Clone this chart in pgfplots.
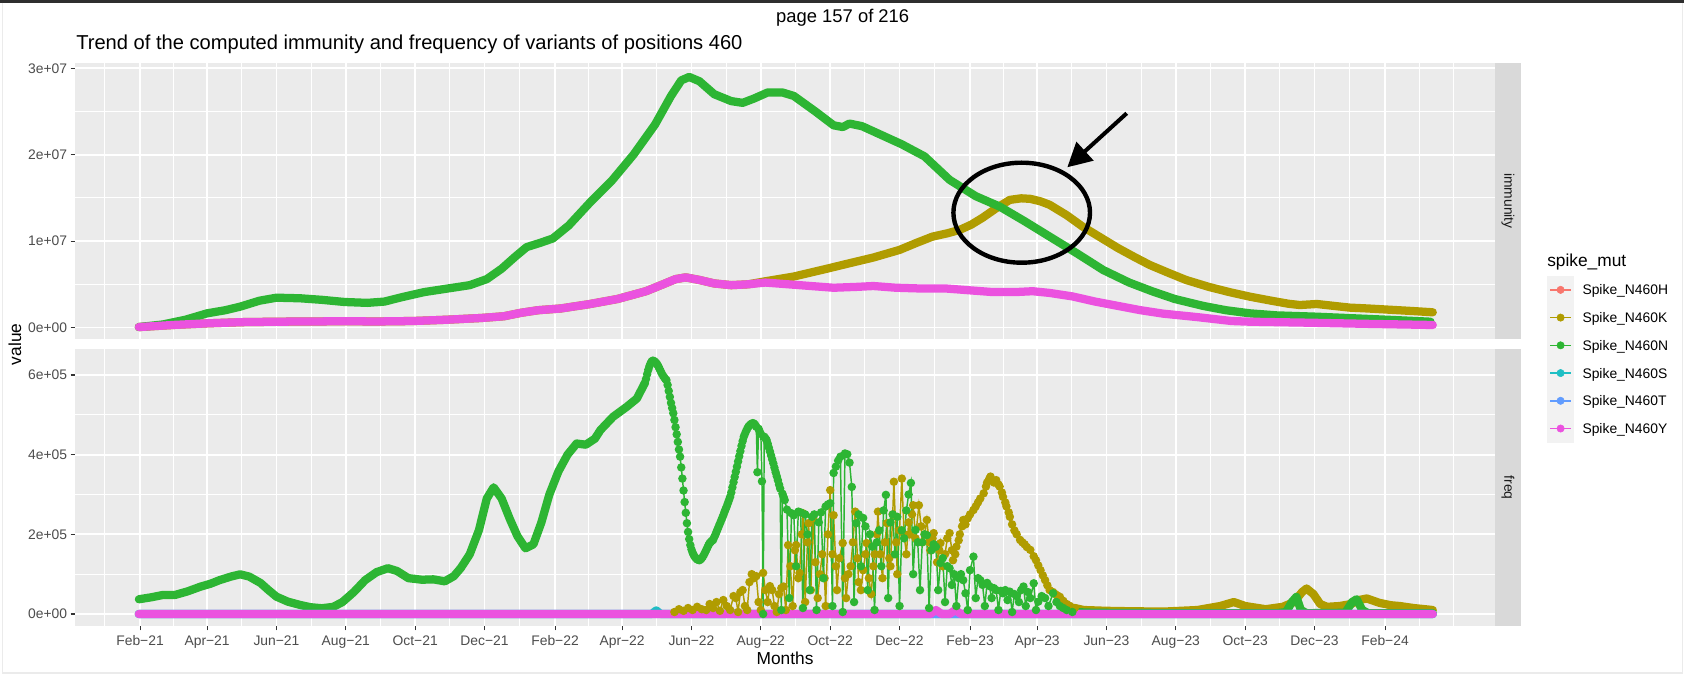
\documentclass[border=0pt]{standalone}
\usepackage{fontspec}
\setmainfont{Liberation Sans}
\usepackage{pgfplots}
\usepackage{pgfplotstable}
\pgfplotsset{compat=1.18}
\usetikzlibrary{arrows.meta}

\definecolor{cH}{HTML}{F8766D}
\definecolor{cK}{HTML}{B09C00}
\definecolor{cN}{HTML}{2DB533}
\definecolor{cS}{HTML}{1FBFC4}
\definecolor{cT}{HTML}{619CFF}
\definecolor{cY}{HTML}{EB52DF}
\definecolor{panel}{HTML}{EBEBEB}
\definecolor{stripbg}{HTML}{D9D9D9}
\definecolor{ticklab}{HTML}{4D4D4D}
\definecolor{tickmk}{HTML}{333333}
\definecolor{legkey}{HTML}{F2F2F2}

\newcommand\tickfont{\fontsize{10.4}{12.5}\selectfont}
\newcommand\titlefont{\fontsize{13}{15.6}\selectfont}

\pgfplotsset{
  gg/.style={
    scale only axis, width=1065pt,
    xmin=-57.2, xmax=1191.7,
    axis line style={draw=none},
    axis background/.style={fill=panel},
    grid=both,
    major grid style={white, line width=1.3pt},
    minor grid style={white, line width=0.65pt},
    xtick={0,59,120,181,242,303,365,424,485,546,607,668,730,789,850,911,972,1033,1095},
    minor xtick={-31,29.5,89.5,150.5,211.5,272.5,334,394.5,454.5,515.5,576.5,637.5,699,759.5,819.5,880.5,941.5,1002.5,1064,1125,1155},
    tick align=outside, tick pos=left,
    major tick length=3.2pt, minor tick length=0pt,
    tick style={tickmk, line width=0.8pt},
    ticklabel style={font=\tickfont, text=ticklab},
    yticklabel style={inner sep=0pt, xshift=-2.5pt},
    xticklabel style={inner sep=0pt, text height=7.5pt, text depth=0pt, yshift=-3.5pt},
    scaled y ticks=false,
  },
  thk/.style={line width=6.2pt, line cap=round, line join=round, no marks},
  dts/.style={line width=1.1pt, mark=*, mark size=2.6pt, mark options={solid}},
}

% freq values in thousands
\pgfplotstableread{
d v
444 580
445 590
446 602
447 613
448 622
449 629
450 634
451 636
452 635
453 633
454 630
455 626
456 621
457 615
458 609
459 603
460 598
461 594
462 590
463 587
464 575
465 560
466 545
467 530
468 517
469 504
470 487
471 469
472 451
473 432
474 413
475 395
476 368
477 340
478 310
479 281
480 254
481 228
482 206
483 188
484 173
485 162
486 154
487 148
488 143
489 140
490 137
491 136
492 135
493 137
494 140
495 144
496 149
497 155
498 161
499 167
500 173
501 178
502 181
503 184
504 186
505 193
506 199
507 206
508 213
509 220
510 227
511 234
512 241
513 248
514 256
515 263
516 270
517 278
518 286
519 294
520 305
521 318
522 331
523 344
524 357
525 370
526 383
527 396
528 409
529 422
530 434
531 445
532 452
533 459
534 465
535 470
536 473
537 476
538 478
539 479
540 478
541 475
542 470
543 356
544 465
545 458
546 452
547 333
548 0
549 445
550 441
551 437
552 428
553 418
554 408
555 398
556 388
557 378
558 367
559 356
560 346
561 336
562 325
563 315
564 10
565 302
566 294
567 286
569 262
571 40
573 253
575 248
577 120
579 257
581 255
583 15
585 250
587 200
589 60
591 244
593 250
595 10
597 230
599 255
601 90
603 270
605 275
607 278
609 20
610 354
612 370
614 385
616 395
618 5
620 403
622 401
624 380
626 319
628 30
630 228
632 250
634 120
636 241
638 220
640 60
642 200
644 169
646 10
648 180
650 210
652 120
654 260
656 299
658 40
660 230
662 250
664 150
666 244
668 20
670 210
672 190
674 260
676 300
678 329
680 100
682 211
684 180
686 60
688 180
690 200
692 198
694 15
696 160
698 175
700 169
702 60
704 128
706 140
708 30
710 120
712 115
714 73
716 100
718 20
720 90
722 100
724 85
726 52
728 10
730 110
733 144
735 40
737 90
739 85
741 73
743 20
745 78
747 70
749 40
751 65
753 60
755 10
757 58
759 52
761 60
763 35
765 56
767 5
769 50
771 45
773 30
775 60
777 69
779 20
781 55
783 40
786 77
788 10
790 31
793 45
796 40
799 20
803 52
806 30
809 20
812 15
815 10
820 5
}\freqNdots

\pgfplotstableread{
d v
470 5
474 12
478 8
482 15
486 10
490 18
494 12
498 10
501 25
504 15
507 30
510 8
513 35
516 20
519 10
522 45
524 40
526 5
528 55
530 60
532 20
534 10
536 80
538 100
540 90
542 95
544 30
546 10
548 103
550 60
552 30
554 70
556 60
558 20
560 5
562 50
564 65
566 69
568 10
570 173
572 120
574 20
576 160
577 173
579 90
580 103
582 200
583 253
585 30
587 180
588 228
590 60
592 241
594 130
596 40
598 100
600 150
602 90
603 20
605 200
607 311
609 150
610 248
612 120
613 60
615 140
618 178
620 90
621 40
623 100
625 120
627 180
629 257
631 140
632 80
634 60
636 110
638 150
639 178
641 90
643 50
645 120
646 150
648 200
649 257
651 150
653 90
655 180
657 228
659 140
660 120
662 250
663 332
665 180
666 100
668 210
670 340
672 200
674 150
676 230
677 200
679 250
680 273
682 190
685 273
687 220
688 180
690 200
692 236
694 180
695 160
697 190
698 203
700 170
701 130
703 160
704 178
706 120
708 150
710 190
712 203
714 160
715 135
717 150
718 169
720 185
721 200
723 220
724 236
726 225
728 240
730 250
733 261
735 270
737 280
739 290
742 303
744 320
745 330
747 340
748 345
750 335
751 330
753 336
755 325
756 320
758 305
759 294
761 280
762 270
764 255
765 244
767 225
769 210
771 200
774 186
776 180
778 175
780 168
783 161
786 145
788 135
790 122
792 110
794 97
796 85
798 72
800 60
803 55
805 50
807 46
809 43
812 33
815 25
818 20
822 15
}\freqKdots

\begin{document}
\begin{tikzpicture}
\begin{scope}[x=0.75pt, y=-0.75pt, yshift=506.25pt]
  \fill[white] (0,0) rectangle (1684,675);
  \fill[black!82] (0,0) rectangle (1684,2.7);
  \draw[black!8, line width=0.8pt] (2.7,3) -- (2.7,673) -- (1682.7,673) -- (1682.7,3);
\end{scope}

% ---------------- immunity panel ----------------
\begin{axis}[gg, at={(56.25pt,251.775pt)}, anchor=south west, height=207.45pt,
  ymin=-1.366e6, ymax=3.0648e7,
  ytick={0,1e7,2e7,3e7}, minor ytick={5e6,1.5e7,2.5e7},
  yticklabels={0e+00,1e+07,2e+07,3e+07},
  xticklabel={}, xtick style={draw=none},
  legend style={at={(axis description cs:1.03662,0.22885)}, anchor=north west,
    draw=none, fill=none, inner sep=0pt, outer sep=0pt, row sep=0pt, column sep=6.75pt,
    font=\tickfont, cells={anchor=west},
    nodes={inner sep=0pt, text height=7.45pt, text depth=0pt}},
  legend image code/.code={
    \fill[legkey] (0pt,-10.2pt) rectangle (19.5pt,10.2pt);
    \draw[line width=1.1pt] (2.2pt,0pt) -- (17.8pt,0pt);
    \fill (10pt,0pt) circle (2.75pt);
  },
]
\addplot[thk, cK, forget plot] coordinates {
(-1,0.05e6) (30,0.3e6) (59,0.48e6) (90,0.62e6) (120,0.67e6) (150,0.7e6) (180,0.72e6)
(210,0.7e6) (240,0.75e6) (270,0.9e6) (300,1.1e6) (320,1.3e6) (335,1.7e6) (350,2.0e6)
(370,2.2e6) (395,2.7e6) (420,3.3e6) (445,4.2e6) (460,5.0e6) (471,5.6e6) (480,5.8e6)
(492,5.5e6) (505,5.1e6) (520,4.9e6) (535,5.0e6) (550,5.35e6) (575,5.9e6) (604,6.8e6)
(624,7.44e6) (645,8.1e6) (668,8.98e6) (683,9.8e6)
(697,10.52e6) (710,10.9e6) (721,11.3e6) (731,11.9e6) (741,12.7e6) (753,13.8e6)
(765,14.77e6) (775,14.95e6) (783,14.89e6) (792,14.6e6) (800,14.2e6) (815,13.0e6)
(829,11.68e6) (845,10.4e6) (860,9.2e6) (874,8.2e6) (888,7.24e6) (905,6.3e6)
(920,5.5e6) (940,4.7e6) (958,4.1e6) (976,3.57e6) (995,3.1e6) (1010,2.75e6)
(1020,2.6e6) (1035,2.72e6) (1050,2.5e6) (1064,2.3e6) (1080,2.2e6) (1100,2.05e6)
(1120,1.9e6) (1137,1.76e6)};
\addplot[thk, cN, forget plot] coordinates {
(-1,0.05e6) (20,0.35e6) (40,0.9e6) (59,1.64e6) (75,2.0e6) (88,2.41e6) (105,3.1e6)
(120,3.45e6) (141,3.38e6) (160,3.2e6) (180,2.95e6) (200,2.85e6) (215,3.0e6)
(230,3.5e6) (250,4.1e6) (270,4.5e6) (290,4.9e6) (305,5.6e6) (318,6.8e6) (330,8.2e6)
(340,9.3e6) (352,9.8e6) (363,10.3e6) (377,11.8e6) (396,14.5e6) (415,17.0e6)
(434,20.0e6) (453,23.5e6) (467,26.8e6) (476,28.6e6) (483,29.0e6) (492,28.5e6)
(505,27.0e6) (520,26.2e6) (530,26.0e6) (540,26.5e6) (552,27.2e6) (565,27.2e6)
(575,26.8e6) (594,25.0e6) (610,23.4e6) (618,23.2e6) (624,23.6e6) (635,23.3e6)
(650,22.4e6) (670,21.2e6) (690,19.8e6) (712,17.09e6) (735,15.2e6) (756,14.0e6)
(778,12.3e6) (800,10.52e6) (825,8.5e6) (847,6.66e6) (870,5.2e6) (890,4.2e6)
(910,3.3e6) (935,2.5e6) (955,2.0e6) (976,1.64e6) (1000,1.4e6) (1035,1.25e6)
(1070,1.05e6) (1100,0.88e6) (1135,0.67e6)};
\addplot[thk, cY, forget plot] coordinates {
(-1,0.05e6) (30,0.3e6) (59,0.48e6) (90,0.62e6) (120,0.67e6) (150,0.7e6) (180,0.72e6)
(210,0.7e6) (240,0.75e6) (270,0.9e6) (300,1.1e6) (320,1.3e6) (335,1.7e6) (350,2.0e6)
(370,2.2e6) (395,2.7e6) (420,3.3e6) (445,4.2e6) (460,5.0e6) (471,5.6e6) (480,5.8e6)
(492,5.5e6) (505,5.1e6) (520,4.9e6) (535,5.0e6) (550,5.2e6) (570,5.0e6) (590,4.8e6)
(610,4.6e6) (630,4.7e6) (645,4.8e6) (665,4.6e6) (690,4.5e6) (710,4.5e6) (730,4.3e6)
(750,4.1e6) (770,4.1e6) (785,4.2e6) (800,4.0e6) (820,3.6e6) (840,3.0e6) (860,2.5e6)
(880,2.0e6) (900,1.6e6) (930,1.2e6) (960,0.75e6) (976,0.67e6) (1030,0.55e6)
(1080,0.42e6) (1137,0.29e6)};
\addlegendimage{cH}\addlegendentry{Spike\_N460H}
\addlegendimage{cK}\addlegendentry{Spike\_N460K}
\addlegendimage{cN}\addlegendentry{Spike\_N460N}
\addlegendimage{cS}\addlegendentry{Spike\_N460S}
\addlegendimage{cT}\addlegendentry{Spike\_N460T}
\addlegendimage{cY}\addlegendentry{Spike\_N460Y}
\end{axis}

% ---------------- freq panel ----------------
\begin{axis}[gg, at={(56.25pt,36.75pt)}, anchor=south west, height=207.75pt,
  ymin=-30124, ymax=665270,
  ytick={0,2e5,4e5,6e5}, minor ytick={1e5,3e5,5e5},
  yticklabels={0e+00,2e+05,4e+05,6e+05},
  xticklabels={Feb−21,Apr−21,Jun−21,Aug−21,Oct−21,Dec−21,Feb−22,Apr−22,Jun−22,Aug−22,Oct−22,Dec−22,Feb−23,Apr−23,Jun−23,Aug−23,Oct−23,Dec−23,Feb−24},
]
\addplot[thk, cH] coordinates {(-1,0) (1137,0)};
\addplot[dts, cK] table[x=d, y expr=\thisrow{v}*1000] {\freqKdots};
\addplot[thk, cK] coordinates {
(822,15000) (830,10000) (850,8000) (870,7000) (900,6000) (930,10000) (950,20000)
(962,30000) (972,20000) (990,12000) (1005,18000) (1015,30000) (1022,55000)
(1026,64000) (1032,50000) (1038,25000) (1044,18000) (1055,20000) (1065,25000)
(1072,35000) (1079,39000) (1090,28000) (1100,22000) (1108,20000) (1120,15000)
(1137,10000)};
\addplot[thk, cN] coordinates {
(-1,37000) (10,42000) (20,47700) (31,48000) (42,57000) (53,68500) (62,76000)
(70,85000) (80,94000) (88,99600) (96,94000) (106,77800) (113,60000) (120,43500)
(130,31000) (141,22600) (150,17000) (160,14500) (170,18000) (178,30000) (188,55000)
(198,85000) (208,105000) (218,115000) (226,108000) (236,90000) (248,86000)
(258,87000) (268,82000) (276,95000) (282,115000) (290,150000) (298,210000)
(305,290000) (311,318000) (318,290000) (325,240000) (332,195000) (339,165000)
(346,175000) (353,230000) (360,300000) (368,358000) (376,400000) (384,428000)
(392,425000) (400,440000) (405,462000) (416,495000) (428,520000) (437,541000)
(444,580000)};
\addplot[dts, cN] table[x=d, y expr=\thisrow{v}*1000] {\freqNdots};
\addplot[thk, cN] coordinates {
(820,5000) (830,4000) (840,3000) (900,2000) (1000,2000) (1008,5000) (1013,30000)
(1017,43000) (1021,10000) (1026,2000) (1060,3000) (1066,30000) (1070,37000)
(1075,10000) (1080,2000) (1137,2000)};
\addplot[thk, cS] coordinates {(-1,0) (450,0) (454,9000) (458,0) (1137,0)};
\addplot[thk, cT] coordinates {(-1,0) (515,0) (519,6000) (523,0) (1137,0)};
\addplot[thk, cY] coordinates {(-1,0) (695,0) (700,10000) (705,0) (712,0) (717,10000)
(722,0) (1137,0)};
\end{axis}

\begin{scope}[x=0.75pt, y=-0.75pt, yshift=506.25pt]
  % strips
  \fill[stripbg] (1495,62.7) rectangle (1520.7,339.3);
  \fill[stripbg] (1495,349) rectangle (1520.7,626);
  \node[rotate=-90, font=\tickfont, text=black!90] at (1508,201) {immunity};
  \node[rotate=-90, font=\tickfont, text=black!90] at (1508,487.5) {freq};
  % titles
  \node[anchor=base, font=\fontsize{13.8}{16.5}\selectfont, inner sep=0pt] at (842.7,22.7) {page 157 of 216};
  \node[anchor=base west, font=\fontsize{15.1}{18.1}\selectfont, inner sep=0pt] at (76,49.5) {Trend of the computed immunity and frequency of variants of positions 460};
  \node[rotate=90, font=\titlefont] at (15,344.4) {value};
  \node[font=\titlefont] at (785,658.3) {Months};
  \node[anchor=base west, font=\titlefont, inner sep=0pt] at (1547,266.7) {spike\_mut};
  % annotation
  \draw[black, line width=3.3pt] (1021.7,212.7) ellipse [x radius=68.3, y radius=50];
  \draw[black, line width=3pt, -{Triangle[length=18pt, width=18.5pt]}] (1126.7,113.3) -- (1067.3,167.3);
\end{scope}
\end{tikzpicture}
\end{document}
